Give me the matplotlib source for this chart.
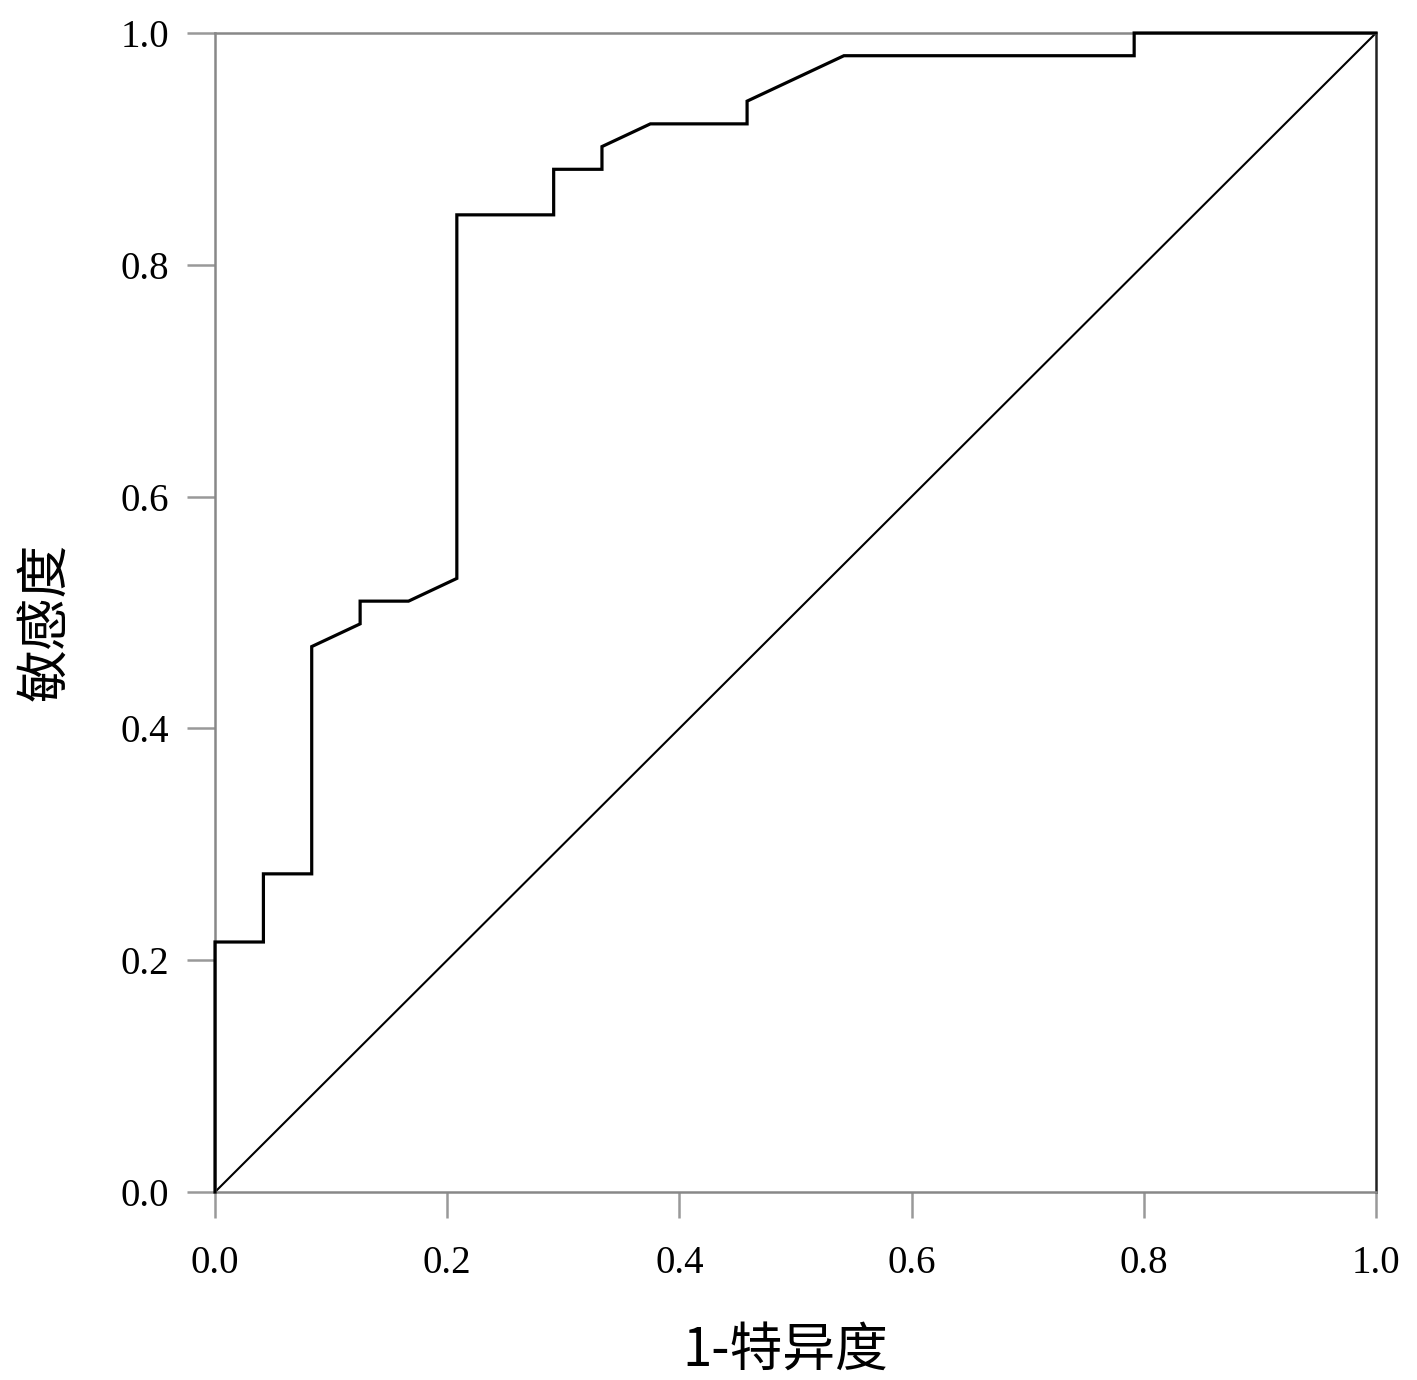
import matplotlib
matplotlib.use("Agg")
import matplotlib.pyplot as plt

# ROC curve points (1 - specificity, sensitivity)
fpr = [0.0, 0.0, 0.0417, 0.0417, 0.0833, 0.0833, 0.125, 0.125, 0.1667, 0.2083, 0.2083,
       0.2917, 0.2917, 0.3333, 0.3333, 0.375, 0.4583, 0.4583, 0.5417, 0.7917, 0.7917, 1.0]
tpr = [0.0, 0.2157, 0.2157, 0.2745, 0.2745, 0.4706, 0.4902, 0.5098, 0.5098, 0.5294, 0.8431,
       0.8431, 0.8824, 0.8824, 0.9020, 0.9216, 0.9216, 0.9412, 0.9804, 0.9804, 1.0, 1.0]
ref_x = [0.0, 1.0]
ref_y = [0.0, 1.0]
ticks = [0.0, 0.2, 0.4, 0.6, 0.8, 1.0]
tick_labels = ["0.0", "0.2", "0.4", "0.6", "0.8", "1.0"]
xlabel = "1-特异度"
ylabel = "敏感度"

fig = plt.figure(figsize=(14.17, 13.80), dpi=100)
ax = fig.add_axes([215/1417, 1 - 1192/1380, (1376-215)/1417, (1192-33)/1380])

ax.plot(ref_x, ref_y, color="black", lw=1.5, solid_capstyle="butt")
ax.plot(fpr, tpr, color="black", lw=2.3, solid_joinstyle="miter", clip_on=False, zorder=5)

ax.set_xlim(0, 1)
ax.set_ylim(0, 1)
ax.set_xticks(ticks)
ax.set_yticks(ticks)
ax.set_xticklabels(tick_labels, family="Liberation Serif", fontsize=28)
ax.set_yticklabels(tick_labels, family="Liberation Serif", fontsize=28)
ax.tick_params(axis="x", length=19, width=1.8, color="#999999", pad=19)
ax.tick_params(axis="y", length=20, width=1.8, color="#999999", pad=13)

for s in ["left", "bottom", "top"]:
    ax.spines[s].set_color("#888888")
    ax.spines[s].set_linewidth(1.8)
ax.spines["right"].set_color("#222222")
ax.spines["right"].set_linewidth(1.8)

fig.text(785/1417, 1 - 1350/1380, xlabel, family=["Noto Sans CJK SC", "DejaVu Sans"],
         fontsize=38, ha="center", va="center")
fig.text(45/1417, 1 - 622/1380, ylabel, family=["Noto Sans CJK SC", "DejaVu Sans"],
         fontsize=38, ha="center", va="center", rotation=90)

fig.savefig("out.png", dpi=100, facecolor="white")
